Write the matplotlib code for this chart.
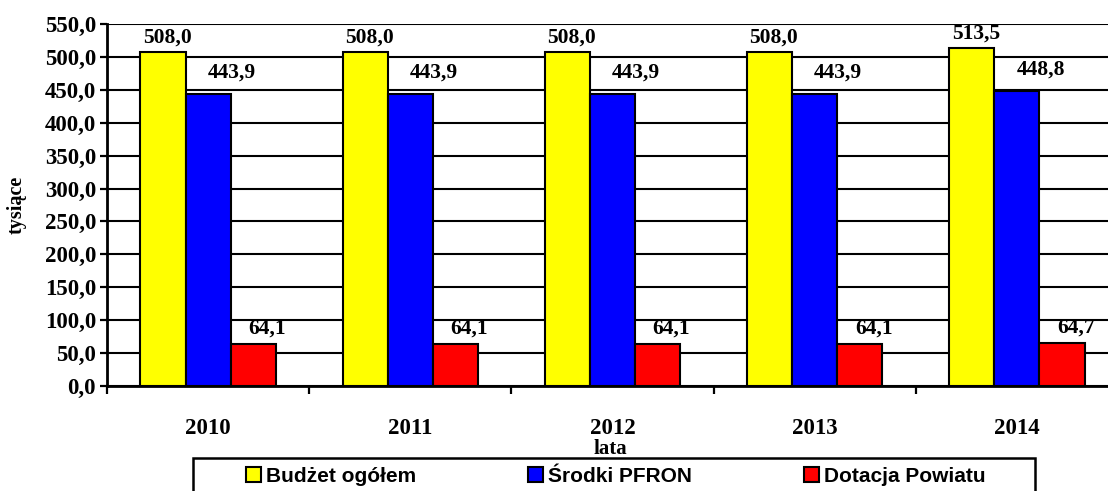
import numpy as np
import matplotlib.pyplot as plt
from matplotlib.patches import Rectangle

lata = ["2010", "2011", "2012", "2013", "2014"]
budzet = [508.0, 508.0, 508.0, 508.0, 513.5]
pfron = [443.9, 443.9, 443.9, 443.9, 448.8]
dotacja = [64.1, 64.1, 64.1, 64.1, 64.7]
nazwy = ["Budżet ogółem", "Środki PFRON", "Dotacja Powiatu"]

W, H = 1108, 491
fig = plt.figure(figsize=(W / 100, H / 100), dpi=100)
# axes from x=107 to 1118 px (runs off the right edge), y=24 to 386 px
ax = fig.add_axes([107 / W, 1 - 386 / H, (1118 - 107) / W, (386 - 24) / H])

serif = "Liberation Serif"
x = np.arange(1, len(lata) + 1)
w = 0.223
serie = [(budzet, "#FFFF00", -w, (3, 3)), (pfron, "#0000FF", 0, (17, 8)), (dotacja, "#FF0000", w, (10, 4))]
for (vals, col, off, (dx, dy)), name in zip(serie, nazwy):
    bars = ax.bar(x + off, vals, w, color=col, edgecolor="black", linewidth=1.5, label=name, zorder=3)
    for b, v in zip(bars, vals):
        ax.annotate(f"{v:.1f}".replace(".", ","), (b.get_x() + b.get_width() / 2, v),
                    xytext=(dx, dy), textcoords="offset points", ha="center", va="bottom",
                    fontsize=15.5, fontweight="bold", family=serif, zorder=4)

ax.set_xlim(0.5, 5.5)
ax.set_ylim(0, 550)
yt = np.arange(0, 551, 50)
ax.set_yticks(yt)
ax.set_yticklabels([f"{t:.1f}".replace(".", ",") for t in yt],
                   fontsize=16.5, fontweight="bold", family=serif)
ax.yaxis.grid(True, color="black", linewidth=1.5, zorder=0)
ax.set_xticks(x)
ax.set_xticklabels(lata, fontsize=16.5, fontweight="bold", family=serif)
ax.tick_params(axis="x", which="major", length=0, pad=23)
ax.set_xticks(np.arange(0.5, 5.6, 1), minor=True)
ax.tick_params(axis="x", which="minor", length=5.5, width=1.6, direction="out")
ax.tick_params(axis="y", length=5, width=1.6, direction="out", pad=3)
for s in ["top", "right"]:
    ax.spines[s].set_visible(False)
for s in ["left", "bottom"]:
    ax.spines[s].set_linewidth(2)

fig.text(610 / W, 1 - 449 / H, "lata", ha="center", va="center", fontsize=15,
         fontweight="bold", family=serif)
fig.text(17 / W, 1 - 205 / H, "tysiące", ha="center", va="center", rotation=90,
         fontsize=14.5, fontweight="bold", family=serif)

leg = fig.legend(loc="center left", bbox_to_anchor=(246 / W, 1 - 476 / H), ncol=3,
                 frameon=False, borderaxespad=0, borderpad=0,
                 prop={"family": "Liberation Sans", "weight": "bold", "size": 15},
                 handlelength=0.72, handleheight=0.7, handletextpad=0.22, columnspacing=5.4)
for h in leg.legend_handles:
    h.set_linewidth(1.5)
# legend frame: left 193 px, right 1035 px, top 458 px, runs off the bottom
fig.patches.append(Rectangle((193 / W, -10 / H), (1035 - 193) / W, (491 - 458 + 10) / H,
                             transform=fig.transFigure, fill=False, edgecolor="black", linewidth=1.8))

fig.savefig("out.png", dpi=100)
